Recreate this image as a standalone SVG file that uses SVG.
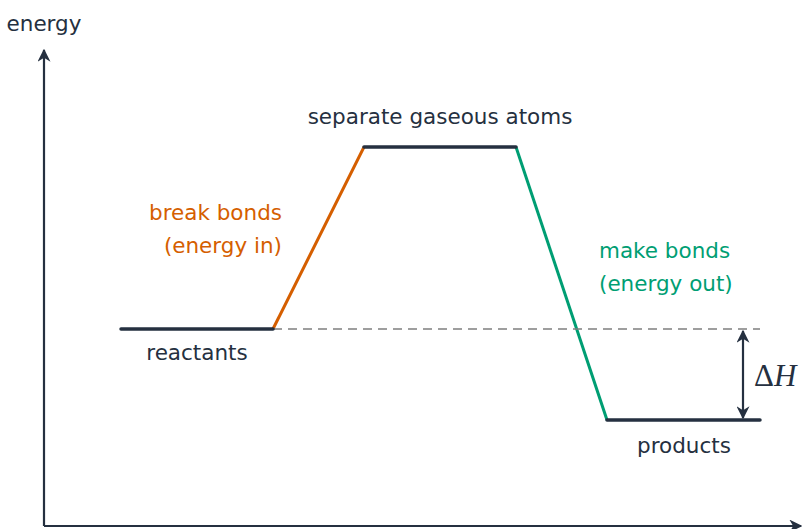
<svg xmlns="http://www.w3.org/2000/svg" width="802" height="529" viewBox="0 0 802 529">
<style>
text{font-family:"DejaVu Sans",sans-serif;font-size:21.5px;fill:#253040}
.lvl{stroke:#253040;stroke-width:3.5;stroke-linecap:round;fill:none}
.ax{stroke:#253040;stroke-width:2.2;fill:none}
</style>
<defs>
<marker id="ah2" viewBox="0 0 10 10" refX="9" refY="5" markerWidth="13" markerHeight="13" orient="auto-start-reverse" markerUnits="userSpaceOnUse">
<path d="M0,0 L10,5 L0,10 L3,5 Z" fill="#253040"/>
</marker>
</defs>
<g id="axes">
<path class="ax" d="M44,526 L44,50" marker-end="url(#ah2)"/>
<path class="ax" d="M44,526 L801,526" marker-end="url(#ah2)"/>
<text x="44" y="31" text-anchor="middle">energy</text>
</g>
<g id="connectors">
<line x1="273" y1="329" x2="364" y2="147" stroke="#D55E00" stroke-width="3"/>
<line x1="516" y1="147" x2="607" y2="420" stroke="#009E73" stroke-width="3"/>
<line x1="273" y1="329" x2="760" y2="329" stroke="#7f7f7f" stroke-width="1.5" stroke-dasharray="9,6"/>
<line x1="743" y1="331" x2="743" y2="418" stroke="#253040" stroke-width="2.2" marker-start="url(#ah2)" marker-end="url(#ah2)"/>
</g>
<g id="reactants">
<line class="lvl" x1="121" y1="329" x2="273" y2="329"/>
<text x="197" y="360" text-anchor="middle">reactants</text>
</g>
<g id="atoms">
<line class="lvl" x1="364" y1="147" x2="516" y2="147"/>
<text x="440" y="124" text-anchor="middle">separate gaseous atoms</text>
</g>
<g id="products">
<line class="lvl" x1="607" y1="420" x2="760" y2="420"/>
<text x="684" y="453" text-anchor="middle">products</text>
</g>
<g id="break">
<text x="282" y="220" text-anchor="end" style="fill:#D55E00">break bonds</text>
<text x="282" y="253" text-anchor="end" style="fill:#D55E00">(energy in)</text>
</g>
<g id="make">
<text x="599" y="258" style="fill:#009E73">make bonds</text>
<text x="599" y="291" style="fill:#009E73">(energy out)</text>
</g>
<g id="dh">
<text x="754" y="386" style="font-family:'Liberation Serif',serif;font-size:31px">Δ<tspan font-style="italic">H</tspan></text>
</g>
</svg>
